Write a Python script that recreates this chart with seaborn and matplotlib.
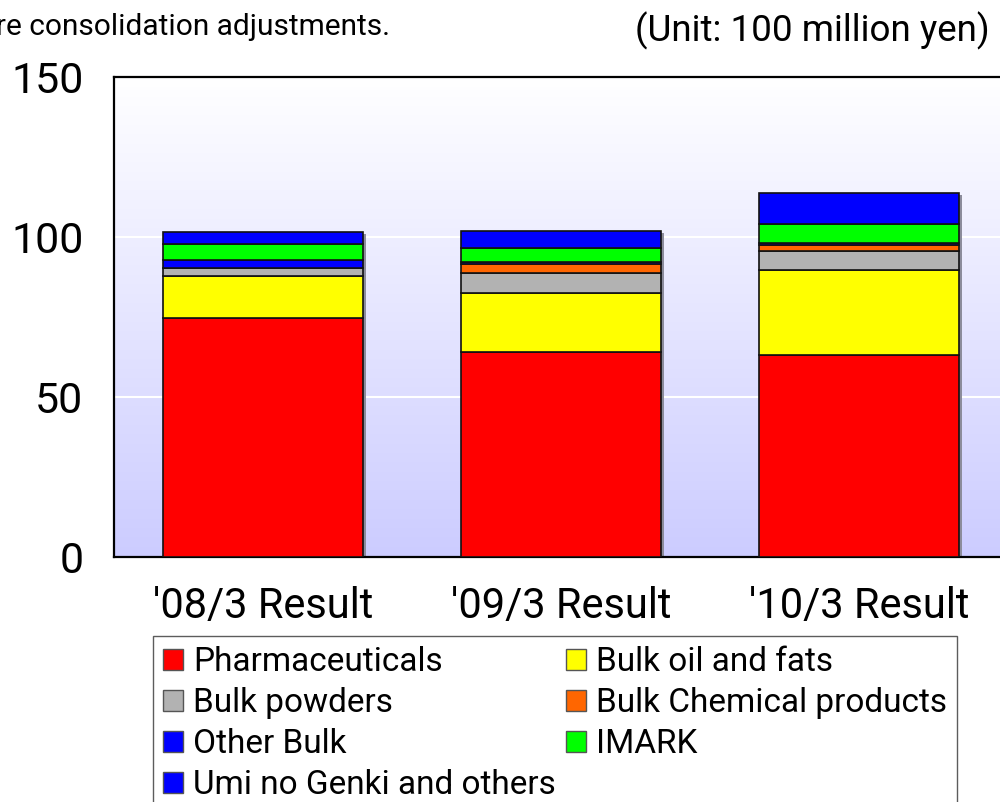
import matplotlib
matplotlib.use("Agg", force=True)
import matplotlib.pyplot as plt
import matplotlib.transforms as mtransforms
import numpy as np
import pandas as pd
import seaborn as sns
from matplotlib.colors import LinearSegmentedColormap
from matplotlib.patches import Patch

PERIODS = ["'08/3 Result", "'09/3 Result", "'10/3 Result"]
SEGMENTS = [
    "Pharmaceuticals",
    "Bulk oil and fats",
    "Bulk powders",
    "Bulk Chemical products",
    "Other Bulk",
    "IMARK",
    "Umi no Genki and others",
]
PHARMA = [74.6, 64.0, 63.2]
OIL_FATS = [13.3, 18.5, 26.4]
POWDERS = [2.4, 6.2, 5.9]
CHEMICAL = [0.0, 2.8, 2.1]
OTHER_BULK = [2.4, 0.8, 0.6]
IMARK = [5.0, 4.3, 5.9]
UMI = [3.8, 5.2, 9.5]
COLORS = ["#FF0000", "#FFFF00", "#B2B2B2", "#FF6600", "#0000FF", "#00FF00", "#0000FF"]
YTICKS = [0, 50, 100, 150]


def main() -> None:
    sns.set_style("white", rc={"text.color": "black", "xtick.color": "black",
                               "ytick.color": "black", "axes.labelcolor": "black"})
    plt.rcParams["font.family"] = ["Roboto", "DejaVu Sans"]

    values = [PHARMA, OIL_FATS, POWDERS, CHEMICAL, OTHER_BULK, IMARK, UMI]
    df = pd.DataFrame({"period": PERIODS})
    for name, vals in zip(SEGMENTS, values):
        df[name] = vals
    df["total"] = df[SEGMENTS].sum(axis=1)

    fig = plt.figure(figsize=(10.0, 8.02), dpi=100)
    ax = fig.add_axes([0.114, 0.3055, 0.894, 0.5985])

    # background gradient
    cmap = LinearSegmentedColormap.from_list("bg", ["#ccccff", "#ffffff"])
    grad = np.linspace(0, 1, 256).reshape(-1, 1)
    ax.imshow(grad, cmap=cmap, aspect="auto", extent=(0, 1, 0, 1),
              origin="lower", transform=ax.transAxes, zorder=0)

    # drop shadow behind the stacks
    n_before = len(ax.patches)
    sns.barplot(data=df, x="period", y="total", order=PERIODS, color="#8c8c9c",
                width=0.668, linewidth=0, saturation=1, ax=ax, zorder=2)
    shift = mtransforms.ScaledTranslation(3 / 100, -2 / 100, fig.dpi_scale_trans)
    for p in ax.patches[n_before:]:
        p.set_transform(ax.transData + shift)

    bottom = np.zeros(len(PERIODS))
    for name, color in zip(SEGMENTS, COLORS):
        sns.barplot(data=df, x="period", y=name, order=PERIODS, color=color,
                    bottom=bottom, width=0.668, edgecolor="#111111", linewidth=1.2,
                    saturation=1, ax=ax, zorder=3)
        bottom = bottom + df[name].to_numpy()

    ax.set_xlim(-0.5, 2.5)
    ax.set_ylim(0, 150)
    ax.set_yticks(YTICKS)
    ax.set_yticklabels([str(t) for t in YTICKS])
    for y in [50, 100]:
        ax.axhline(y, color="white", lw=1.5, zorder=1)

    ax.set_xticks([0, 1, 2])
    ax.set_xticklabels(PERIODS)
    ax.tick_params(axis="x", length=0, pad=21, labelsize=30)
    ax.tick_params(axis="y", length=0, pad=22, labelsize=31)
    ax.set_xticks([0.5, 1.5], minor=True)
    ax.tick_params(axis="x", which="minor", direction="in", length=12, color="#444444", width=1.2)
    ax.set_xlabel("")
    ax.set_ylabel("")
    for side in ["top", "left", "bottom"]:
        ax.spines[side].set_visible(True)
        ax.spines[side].set_color("black")
        ax.spines[side].set_linewidth(1.6)
    ax.spines["right"].set_visible(False)

    fig.text(0.39, 0.967, "Figures are before consolidation adjustments.",
             ha="right", va="center", fontsize=21.5)
    fig.text(0.99, 0.962, "(Unit: 100 million yen)", ha="right", va="center", fontsize=26.5)

    handles = [Patch(facecolor=c, edgecolor="#555555", label=n) for n, c in zip(SEGMENTS, COLORS)]
    order = [0, 2, 4, 6, 1, 3, 5]
    leg = fig.legend([handles[i] for i in order], [SEGMENTS[i] for i in order],
                     loc="upper left", bbox_to_anchor=(0.153, 0.207), ncol=2,
                     fontsize=24, frameon=True, fancybox=False, edgecolor="#333333",
                     handlelength=0.6, handleheight=0.6, handletextpad=0.3,
                     columnspacing=0.3, labelspacing=0.27, borderpad=0.3,
                     borderaxespad=0)
    leg.get_frame().set_linewidth(1.0)

    fig.savefig("out.png", dpi=100)


if __name__ == "__main__":
    main()
